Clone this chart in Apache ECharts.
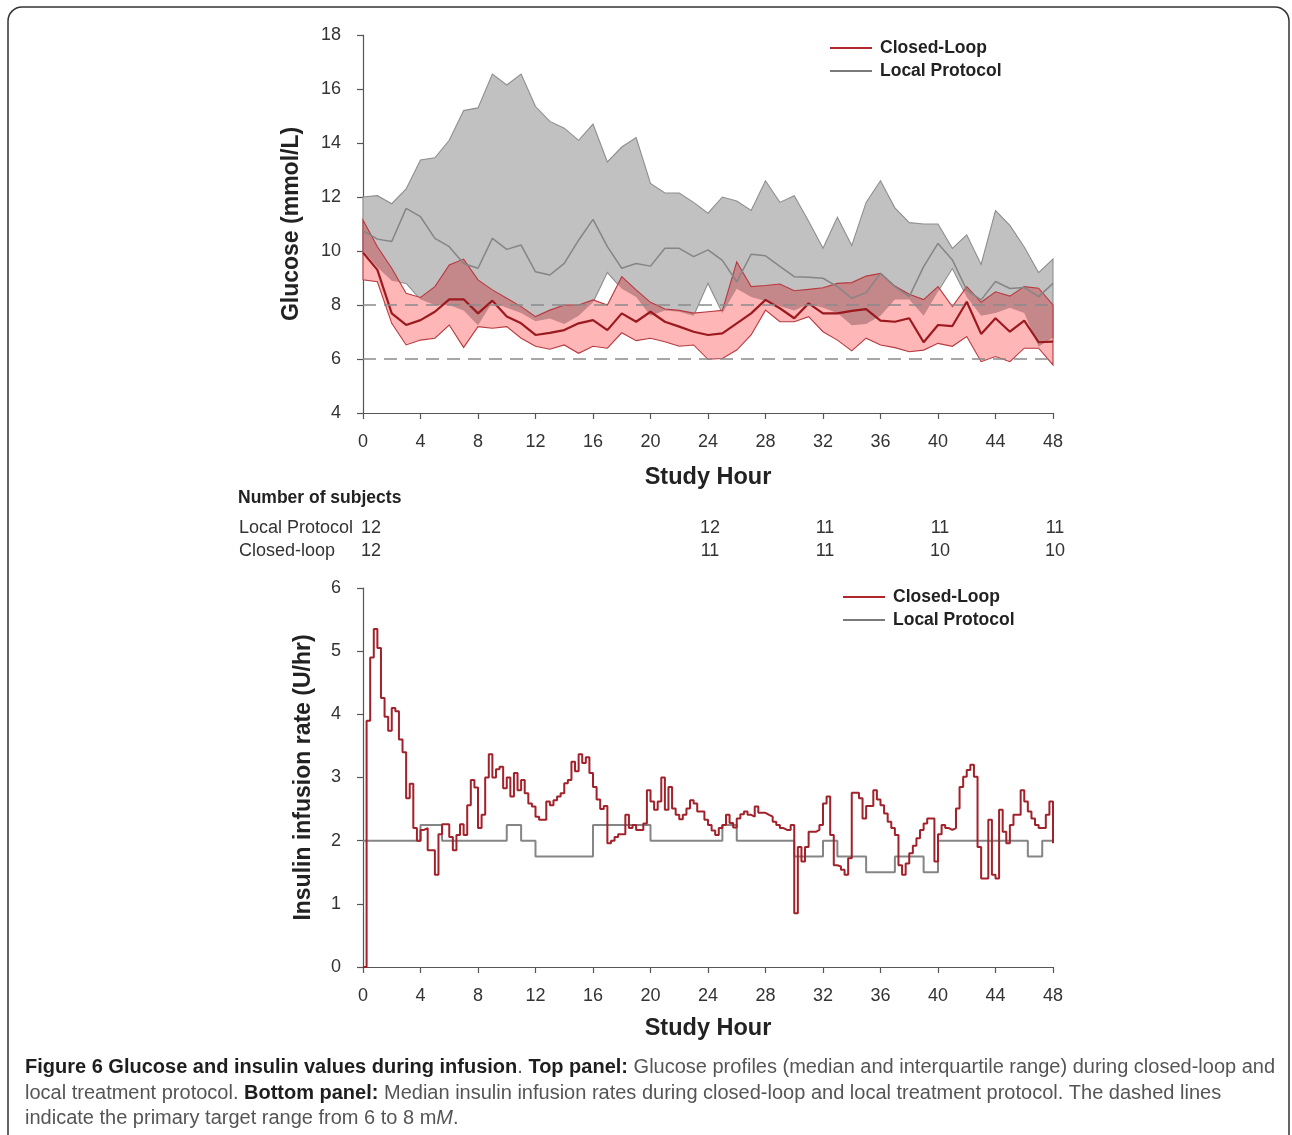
<!DOCTYPE html>
<html>
<head>
<meta charset="utf-8">
<title>Figure 6</title>
<script src="https://cdn.jsdelivr.net/npm/echarts/dist/echarts.min.js"></script>
<style>
  html, body { margin: 0; padding: 0; background: #fff; }
  #chart { width: 1292px; height: 1135px; }
</style>
</head>
<body>
<div id="chart"></div>
<script>
// Figure 6 - glucose (top) and insulin infusion (bottom), closed-loop vs local protocol

// ---- top panel: hourly glucose, mmol/L ----
const glucoseHours = [0, 1, 2, 3, 4, 5, 6, 7, 8, 9, 10, 11, 12, 13, 14, 15, 16, 17, 18, 19, 20, 21, 22, 23, 24,
  25, 26, 27, 28, 29, 30, 31, 32, 33, 34, 35, 36, 37, 38, 39, 40, 41, 42, 43, 44, 45, 46, 47, 48];

const localUpper = [12.0, 12.05, 11.75, 12.3, 13.37, 13.45, 14.1, 15.2, 15.3, 16.55, 16.15, 16.55, 15.35, 14.8, 14.55,
  14.1, 14.7, 13.3, 13.85, 14.2, 12.5, 12.15, 12.15, 11.8, 11.4, 12.0, 11.85, 11.5, 12.6, 11.8, 12.05, 11.1, 10.1,
  11.25, 10.2, 11.8, 12.6, 11.6, 11.05, 11.0, 11.0, 10.1, 10.6, 9.5, 11.5, 10.95, 10.15, 9.2, 9.7];
const localMedian = [10.75, 10.44, 10.35, 11.58, 11.27, 10.47, 10.16, 9.54, 9.36, 10.47, 10.06, 10.22, 9.23, 9.11, 9.54,
  10.4, 11.17, 10.16, 9.36, 9.54, 9.44, 10.1, 10.1, 9.79, 10.04, 9.65, 8.86, 9.88, 9.82, 9.43, 9.05, 9.03, 8.99,
  8.68, 8.25, 8.46, 9.17, 8.68, 8.31, 9.42, 10.28, 9.67, 8.55, 8.19, 8.87, 8.61, 8.65, 8.31, 8.8];
const localLower = [10.0, 9.4, 8.9, 8.8, 8.2, 8.0, 8.0, 7.8, 7.25, 8.1, 7.9, 7.7, 7.4, 7.5, 7.3,
  7.6, 8.1, 9.2, 8.6, 8.3, 7.6, 7.8, 7.75, 7.6, 8.8, 7.7, 8.6, 8.3, 8.15, 7.95, 7.8, 8.05, 7.9,
  7.7, 7.25, 7.3, 7.6, 8.2, 8.2, 7.6, 8.5, 9.35, 8.3, 7.6, 7.7, 7.9, 7.7, 6.45, 6.8];

const closedLoopUpper = [11.15, 10.16, 9.36, 8.43, 8.28, 8.68, 9.48, 9.7, 8.93, 8.56, 8.25, 7.94, 7.57, 7.81, 8.0,
  8.0, 8.19, 8.0, 9.05, 8.56, 8.1, 7.85, 7.8, 7.7, 7.75, 7.8, 9.6, 8.68, 8.72, 8.78, 8.53, 8.58, 8.64,
  8.8, 8.83, 9.07, 9.17, 8.7, 8.4, 8.2, 8.68, 7.94, 8.68, 8.1, 8.49, 8.33, 8.68, 8.62, 8.0];
const closedLoopMedian = [9.94, 9.3, 7.69, 7.26, 7.44, 7.75, 8.21, 8.21, 7.69, 8.16, 7.57, 7.32, 6.89, 6.97, 7.07,
  7.32, 7.44, 7.07, 7.69, 7.38, 7.75, 7.38, 7.2, 7.01, 6.89, 6.95, 7.32, 7.69, 8.19, 7.88, 7.51, 8.06, 7.69,
  7.69, 7.78, 7.85, 7.42, 7.38, 7.51, 6.62, 7.26, 7.22, 8.12, 6.93, 7.51, 7.01, 7.42, 6.62, 6.64];
const closedLoopLower = [8.93, 8.86, 7.32, 6.52, 6.7, 6.77, 7.26, 6.43, 7.2, 7.14, 7.2, 6.77, 6.47, 6.36, 6.52,
  6.21, 6.47, 6.4, 6.97, 6.68, 6.77, 6.64, 6.47, 6.52, 5.99, 6.02, 6.33, 6.89, 7.81, 7.38, 7.38, 7.57, 7.01,
  6.7, 6.3, 6.77, 6.52, 6.42, 6.27, 6.33, 6.58, 6.47, 6.83, 5.9, 6.09, 5.9, 6.4, 6.4, 5.78];

const targetRange = [6, 8];

// ---- number of subjects table ----
const subjectHours = [0, 24, 32, 40, 48];
const localSubjects = [12, 12, 11, 11, 11];
const closedLoopSubjects = [12, 11, 11, 10, 10];

// ---- bottom panel: insulin infusion rate, U/hr ----
const insulinStepHours = 0.25; // closed-loop rate is set every 15 min
const closedLoopInsulin = [
  0, 3.9, 4.9, 5.35, 5.05, 4.26, 3.96, 3.74, 4.1, 4.05, 3.6, 3.4,
  2.67, 2.9, 2.2, 2.0, 2.17, 2.2, 1.85, 1.85, 1.46, 2.1, 2.26, 2.26,
  2.06, 1.85, 2.09, 2.26, 2.09, 2.56, 2.96, 2.84, 2.2, 2.41, 3.0, 3.37,
  3.0, 3.13, 3.17, 2.83, 3.0, 2.7, 3.07, 2.8, 2.96, 2.75, 2.59, 2.54,
  2.38, 2.33, 2.33, 2.62, 2.56, 2.64, 2.7, 2.75, 2.91, 2.96, 3.25, 3.1,
  3.37, 3.23, 3.32, 3.07, 2.85, 2.65, 2.5, 2.55, 1.96, 2.0, 2.06, 2.1,
  2.1, 2.41, 2.2, 2.25, 2.17, 2.17, 2.27, 2.8, 2.62, 2.49, 2.62, 3.0,
  2.49, 2.85, 2.51, 2.41, 2.34, 2.41, 2.51, 2.64, 2.59, 2.46, 2.46, 2.33,
  2.25, 2.16, 2.09, 2.2, 2.25, 2.41, 2.28, 2.21, 2.35, 2.42, 2.46, 2.41,
  2.38, 2.54, 2.44, 2.44, 2.41, 2.38, 2.3, 2.25, 2.2, 2.17, 2.17, 2.25,
  0.85, 1.9, 1.67, 1.9, 2.14, 2.14, 2.17, 2.25, 2.59, 2.7, 2.09, 1.61,
  1.59, 1.54, 1.46, 1.72, 2.76, 2.76, 2.67, 2.35, 2.55, 2.55, 2.8, 2.65,
  2.56, 2.43, 2.3, 2.2, 2.09, 1.61, 1.46, 1.64, 1.8, 1.92, 2.04, 2.17,
  2.27, 2.35, 2.35, 1.67, 2.1, 2.25, 2.2, 2.17, 2.2, 2.51, 2.85, 3.01,
  3.12, 3.2, 3.01, 1.9, 1.4, 1.4, 2.33, 1.46, 1.4, 2.49, 2.14, 1.96,
  2.25, 2.41, 2.41, 2.8, 2.62, 2.46, 2.35, 2.25, 2.2, 2.2, 2.41, 2.62
];
const closedLoopInsulinEnd = 1.96;

const localInsulinHours = [0, 4, 5.5, 10, 11, 12, 16, 20, 25, 26, 30, 32, 33, 35, 37, 39, 40, 46.25, 47.25, 48];
const localInsulinRate = [2, 2.25, 2, 2.25, 2, 1.75, 2.25, 2, 2.25, 2, 1.75, 2, 1.75, 1.5, 1.75, 1.5, 2, 1.75, 2, 2];

const FONT = 'Liberation Sans';
const RED = '#a3212a';
const GREY = '#858585';

// whole IQR band drawn as one polygon through the axis scales
function bandRenderer(lower, upper, style) {
  return function (params, api) {
    if (params.dataIndex !== 0) return;
    const points = [];
    for (let i = 0; i < glucoseHours.length; i++) {
      points.push(api.coord([glucoseHours[i], upper[i]]));
    }
    for (let i = glucoseHours.length - 1; i >= 0; i--) {
      points.push(api.coord([glucoseHours[i], lower[i]]));
    }
    return { type: 'polygon', shape: { points: points }, style: style };
  };
}

// where the two IQR bands overlap the picture shows a darker shade
function overlapRenderer(color) {
  const edges = [localUpper, localLower, closedLoopUpper, closedLoopLower];
  return function (params, api) {
    if (params.dataIndex !== 0) return;
    const samples = [];
    const sample = function (i, t) {
      const v = edges.map(function (e) { return e[i] + (e[i + 1] - e[i]) * t; });
      return {
        h: glucoseHours[i] + (glucoseHours[i + 1] - glucoseHours[i]) * t,
        top: Math.min(v[0], v[2]),
        bottom: Math.max(v[1], v[3]),
      };
    };
    for (let i = 0; i < glucoseHours.length - 1; i++) {
      const ts = [0];
      for (let j = 0; j < edges.length; j++) {
        for (let k = j + 1; k < edges.length; k++) {
          const da = edges[j][i] - edges[k][i];
          const db = edges[j][i + 1] - edges[k][i + 1];
          if (da * db < 0) ts.push(da / (da - db));
        }
      }
      ts.sort(function (a, b) { return a - b; });
      ts.forEach(function (t) { samples.push(sample(i, t)); });
    }
    samples.push(sample(glucoseHours.length - 2, 1));

    const children = [];
    let run = [];
    const flush = function () {
      if (run.length >= 2) {
        const pts = run.map(function (s) { return api.coord([s.h, s.top]); })
          .concat(run.slice().reverse().map(function (s) { return api.coord([s.h, s.bottom]); }));
        children.push({ type: 'polygon', shape: { points: pts }, style: { fill: color } });
      }
      run = [];
    };
    samples.forEach(function (s) {
      if (s.top >= s.bottom - 1e-9) {
        run.push(s);
      } else {
        flush();
      }
    });
    flush();
    return { type: 'group', children: children };
  };
}

function bandData(lower, upper) {
  return glucoseHours.map(function (h, i) { return [h, lower[i], upper[i]]; });
}

function hourAxis(gridIndex, nameGap) {
  return {
    type: 'value',
    gridIndex: gridIndex,
    min: 0,
    max: 48,
    interval: 4,
    name: 'Study Hour',
    nameLocation: 'middle',
    nameGap: nameGap,
    nameTextStyle: { fontFamily: FONT, fontSize: 23.5, fontWeight: 'bold', color: '#222' },
    axisLine: { show: true, onZero: false, lineStyle: { color: '#555', width: 1.2 } },
    axisTick: { show: true, length: 6, lineStyle: { color: '#555', width: 1.2 } },
    axisLabel: { margin: 20, fontFamily: FONT, fontSize: 18, color: '#333' },
    splitLine: { show: false },
  };
}

function valueAxis(gridIndex, min, max, interval, name, nameGap) {
  return {
    type: 'value',
    gridIndex: gridIndex,
    min: min,
    max: max,
    interval: interval,
    offset: 8,
    name: name,
    nameLocation: 'middle',
    nameGap: nameGap,
    nameTextStyle: { fontFamily: FONT, fontSize: 23, fontWeight: 'bold', color: '#222' },
    axisLine: { show: true, lineStyle: { color: '#555', width: 1.2 } },
    axisTick: { show: true, length: 6, lineStyle: { color: '#555', width: 1.2 } },
    axisLabel: { margin: 14, fontFamily: FONT, fontSize: 18, color: '#333' },
    splitLine: { show: false },
  };
}

function legendAt(left, top) {
  return {
    left: left,
    top: top,
    orient: 'vertical',
    icon: 'rect',
    itemWidth: 42,
    itemHeight: 2,
    itemGap: 5,
    selectedMode: false,
    textStyle: {
      fontFamily: FONT, fontSize: 17.5, fontWeight: 'bold', color: '#222', lineHeight: 17, padding: [0, 0, 0, 3],
    },
    data: ['Closed-Loop', 'Local Protocol'],
  };
}

const myChart = echarts.init(document.getElementById('chart'), null, { renderer: 'canvas' });

const option = {
  animation: false,
  backgroundColor: '#fff',
  textStyle: { fontFamily: FONT },
  legend: [legendAt(825, 34), legendAt(838, 583)],
  grid: [
    { left: 363, top: 35, width: 690, height: 378 },
    { left: 363, top: 588, width: 690, height: 379 },
  ],
  xAxis: [hourAxis(0, 53), hourAxis(1, 50)],
  yAxis: [
    valueAxis(0, 4, 18, 2, 'Glucose (mmol/L)', 52),
    valueAxis(1, 0, 6, 1, 'Insulin infusion rate (U/hr)', 40),
  ],
  series: [
    {
      name: 'Local IQR',
      type: 'custom',
      xAxisIndex: 0,
      yAxisIndex: 0,
      silent: true,
      renderItem: bandRenderer(localLower, localUpper, { fill: '#c1c1c1', stroke: '#8e8e8e', lineWidth: 1.1 }),
      encode: { x: 0, y: [1, 2] },
      data: bandData(localLower, localUpper),
    },
    {
      name: 'Closed-loop IQR',
      type: 'custom',
      xAxisIndex: 0,
      yAxisIndex: 0,
      silent: true,
      renderItem: bandRenderer(closedLoopLower, closedLoopUpper, { fill: '#ffb6b6' }),
      encode: { x: 0, y: [1, 2] },
      data: bandData(closedLoopLower, closedLoopUpper),
    },
    {
      name: 'IQR overlap',
      type: 'custom',
      xAxisIndex: 0,
      yAxisIndex: 0,
      silent: true,
      renderItem: overlapRenderer('#c4878a'),
      encode: { x: 0, y: [1, 2] },
      data: bandData(closedLoopLower, closedLoopUpper),
    },
    {
      name: 'Closed-loop IQR edge',
      type: 'custom',
      xAxisIndex: 0,
      yAxisIndex: 0,
      silent: true,
      renderItem: bandRenderer(closedLoopLower, closedLoopUpper, { fill: 'none', stroke: '#b8393f', lineWidth: 1.1 }),
      encode: { x: 0, y: [1, 2] },
      data: bandData(closedLoopLower, closedLoopUpper),
    },
    {
      name: 'Local Protocol',
      type: 'line',
      xAxisIndex: 0,
      yAxisIndex: 0,
      showSymbol: false,
      color: '#7a7a7a',
      lineStyle: { color: '#858585', width: 1.5 },
      data: glucoseHours.map(function (h, i) { return [h, localMedian[i]]; }),
      markLine: {
        silent: true,
        symbol: 'none',
        label: { show: false },
        lineStyle: { color: '#8a8a8a', width: 1.5, type: [13, 8] },
        data: targetRange.map(function (v) { return { yAxis: v }; }),
      },
    },
    {
      name: 'Closed-Loop',
      type: 'line',
      xAxisIndex: 0,
      yAxisIndex: 0,
      showSymbol: false,
      color: '#b0262c',
      lineStyle: { color: '#9a1a20', width: 2.2 },
      data: glucoseHours.map(function (h, i) { return [h, closedLoopMedian[i]]; }),
    },
    {
      name: 'Local Protocol',
      type: 'line',
      xAxisIndex: 1,
      yAxisIndex: 1,
      step: 'end',
      showSymbol: false,
      color: '#6f6f6f',
      lineStyle: { color: GREY, width: 2 },
      data: localInsulinHours.map(function (h, i) { return [h, localInsulinRate[i]]; }),
    },
    {
      name: 'Closed-Loop',
      type: 'line',
      xAxisIndex: 1,
      yAxisIndex: 1,
      step: 'end',
      showSymbol: false,
      color: RED,
      lineStyle: { color: RED, width: 2 },
      data: closedLoopInsulin
        .map(function (v, i) { return [i * insulinStepHours, v]; })
        .concat([[closedLoopInsulin.length * insulinStepHours, closedLoopInsulinEnd]]),
    },
  ],
};

myChart.setOption(option);

// texts placed after the axes exist, so the subject counts sit under their hours
const px = function (h) { return myChart.convertToPixel({ xAxisIndex: 0 }, h); };
const tableFont = { fontFamily: FONT, fontSize: 18, fill: '#333' };

const graphics = [
  {
    type: 'rect',
    silent: true,
    shape: { x: 8, y: 7, width: 1281, height: 1200, r: 14 },
    style: { fill: 'none', stroke: '#333', lineWidth: 1.5 },
  },
  {
    type: 'text', x: 238, y: 498,
    style: { text: 'Number of subjects', fontFamily: FONT, fontSize: 17.5, fontWeight: 'bold', fill: '#222', verticalAlign: 'middle' },
  },
  { type: 'text', x: 239, y: 528, style: Object.assign({ text: 'Local Protocol', verticalAlign: 'middle' }, tableFont) },
  { type: 'text', x: 239, y: 551, style: Object.assign({ text: 'Closed-loop', verticalAlign: 'middle' }, tableFont) },
];

subjectHours.forEach(function (h, i) {
  const first = i === 0;
  const x = first ? px(h) - 2 : px(h) + 2;
  const align = first ? 'left' : 'center';
  graphics.push({
    type: 'text', x: x, y: 528,
    style: Object.assign({ text: String(localSubjects[i]), align: align, verticalAlign: 'middle' }, tableFont),
  });
  graphics.push({
    type: 'text', x: x, y: 551,
    style: Object.assign({ text: String(closedLoopSubjects[i]), align: align, verticalAlign: 'middle' }, tableFont),
  });
});

graphics.push({
  type: 'text',
  left: 25,
  top: 1055,
  style: {
    text: '{b|Figure 6 Glucose and insulin values during infusion}{n|. }{b|Top panel:}{n| Glucose profiles (median and interquartile range) during closed-loop and}\n' +
      '{n|local treatment protocol. }{b|Bottom panel:}{n| Median insulin infusion rates during closed-loop and local treatment protocol. The dashed lines}\n' +
      '{n|indicate the primary target range from 6 to 8 m}{i|M}{n|.}',
    fontFamily: FONT,
    fontSize: 20,
    lineHeight: 25.5,
    rich: {
      b: { fontFamily: FONT, fontSize: 20, fontWeight: 'bold', fill: '#1e1e1e', lineHeight: 25.5 },
      n: { fontFamily: FONT, fontSize: 20, fill: '#555', lineHeight: 25.5 },
      i: { fontFamily: FONT, fontSize: 20, fontStyle: 'italic', fill: '#555', lineHeight: 25.5 },
    },
  },
});

myChart.setOption({ graphic: graphics });
</script>
</body>
</html>
